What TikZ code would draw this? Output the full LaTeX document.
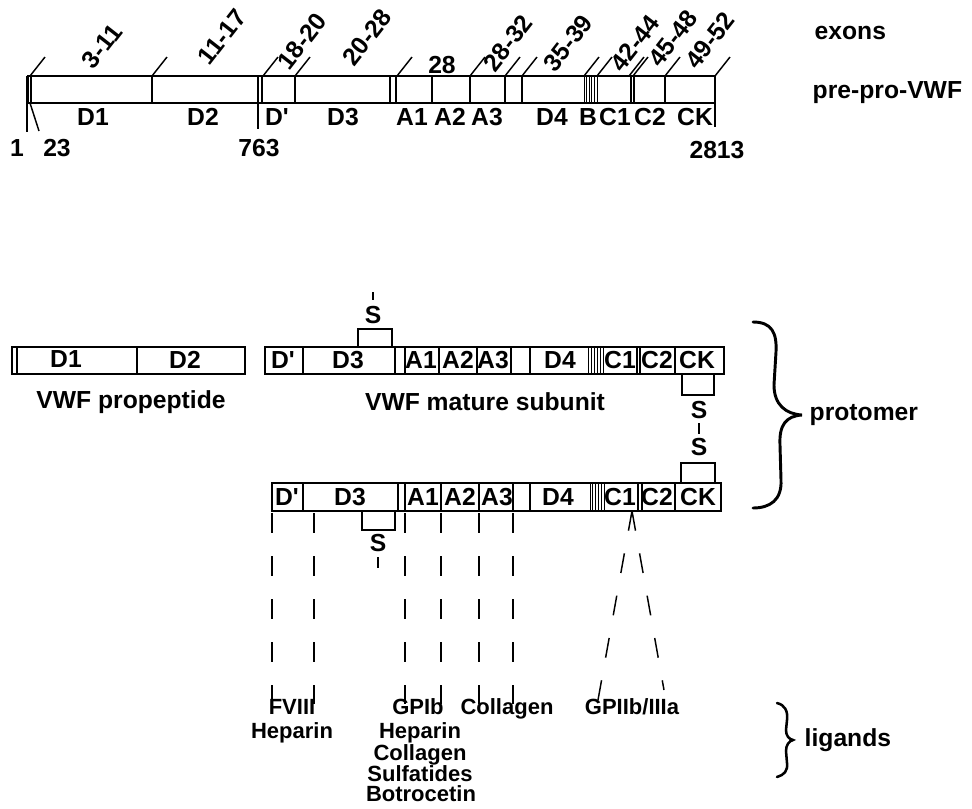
\documentclass[tikz,border=0pt]{standalone}
\usepackage{fontspec}
\setmainfont{Liberation Sans}
\usetikzlibrary{positioning}

\tikzset{every picture/.style={line width=1.1pt}}
\tikzset{
  lbl/.style={font=\fontsize{18.5}{21}\selectfont\bfseries, inner sep=0.75pt},
  lig/.style={font=\fontsize{16.5}{18}\selectfont\bfseries, inner sep=0.5pt,
    text height=11.9pt, text depth=3.4pt},
  exn/.style={lbl, rotate=52},
  hatch/.style={line width=0.6pt},
  dsh/.style={line width=1.1pt, dash pattern=on 15pt off 17.25pt},
  brace/.style={line width=2.2pt, line cap=round}
}
\newcommand{\pr}{\textquotesingle}

\begin{document}
\begin{tikzpicture}[x=0.75pt,y=0.75pt,yscale=-1,xscale=1]
\useasboundingbox (0,0) rectangle (972,808);

%pre-pro-VWF bar
\draw (28,76) rectangle (715,103);
\foreach \x in {31,152,258,262,295,390,396,432,470,505,522,631,634,665}
  \draw (\x,76) -- (\x,103);
\foreach \x in {584,586.6,589.2,591.8,594.4,597}
  \draw[hatch] (\x,76) -- (\x,103);
%exon boundaries
\foreach \x in {30,152,263,295,397,470,505,522,584,597,629,633,665,715}
  \draw (\x,76) -- ++(15,-19);
%ticks
\draw (27,76) -- (27,132);
\draw (30,103) -- (39,131);
\draw (258,103) -- (258,129);
\draw (715,103) -- (715,127);

% Text Node
\node[exn] (e1) at (102,46) {3-11};
\node[exn] (e2) at (222,37) {11-17};
\node[exn] (e3) at (302,41) {18-20};
\node[exn] (e4) at (367,37) {20-28};
\node[lbl] (e5) at (442,65) {28};
\node[exn] (e6) at (508,43) {28-32};
\node[exn] (e7) at (568,43) {35-39};
\node[exn] (e8) at (635,43) {42-44};
\node[exn] (e9) at (673,38) {45-48};
\node[exn] (e10) at (710,40) {49-52};

% Text Node
\node[lbl] (tD1) at (93,117) {D1};
\node[lbl] (tD2) at (203,117) {D2};
\node[lbl] (tDp) at (277,117) {D\pr};
\node[lbl] (tD3) at (343,117) {D3};
\node[lbl] (tA1) at (412,117) {A1};
\node[lbl] (tA2) at (450,117) {A2};
\node[lbl] (tA3) at (487,117) {A3};
\node[lbl] (tD4) at (552,117) {D4};
\node[lbl] (tB) at (588,117) {B};
\node[lbl] (tC1) at (615,117) {C1};
\node[lbl] (tC2) at (650,117) {C2};
\node[lbl] (tCK) at (695,117) {CK};

\node[lbl] (n1) at (17,148) {1};
\node[lbl] (n23) at (57,148) {23};
\node[lbl] (n763) at (259,148) {763};
\node[lbl] (n2813) at (717,150) {2813};

\node[lbl, anchor=west] (exons) at (813,33) {exons};
\node[lbl, anchor=west] (prepro) at (811,93) {pre-pro-VWF};

%propeptide
\draw (12,347) rectangle (245,374);
\draw (17,347) -- (17,374);
\draw (137,347) -- (137,374);
\node[lbl] (pD1) at (66,359) {D1};
\node[lbl] (pD2) at (185,360) {D2};
\node[lbl] (prop) at (131,402) {VWF propeptide};

%mature subunit
\draw (265,347) rectangle (724,374);
\foreach \x in {303,395,405,439,477,511,530,637,640,675}
  \draw (\x,347) -- (\x,374);
\foreach \x in {588,591,594,597,600,603}
  \draw[hatch] (\x,347) -- (\x,374);
\node[lbl] (mDp) at (283,360) {D\pr};
\node[lbl] (mD3) at (348,360) {D3};
\node[lbl] (mA1) at (421,360) {A1};
\node[lbl] (mA2) at (458,360) {A2};
\node[lbl] (mA3) at (493,360) {A3};
\node[lbl] (mD4) at (560,360) {D4};
\node[lbl] (mC1) at (620,360) {C1};
\node[lbl] (mC2) at (657,360) {C2};
\node[lbl] (mCK) at (697,360) {CK};
\node[lbl] (mat) at (485,402) {VWF mature subunit};

%disulfide bonds
\draw (358,347) -- (358,329) -- (392,329) -- (392,347);
\node[lbl] (s1) at (373,315) {S};
\draw (373,292) -- (373,300);
\draw (682,374) -- (682,395) -- (714,395) -- (714,374);
\node[lbl] (s2) at (699,410) {S};
\node[lbl] (s3) at (699,447) {S};
\draw[shorten <=2pt, shorten >=2pt] (s2) -- (s3);
\draw (681,483) -- (681,463) -- (715,463) -- (715,483);

%second subunit
\draw (272,483) rectangle (721,511);
\foreach \x in {303,398,405,441,479,513,530,638,642,675}
  \draw (\x,483) -- (\x,511);
\foreach \x in {590,592.8,595.6,598.4,601.2,604}
  \draw[hatch] (\x,483) -- (\x,511);
\node[lbl] (bDp) at (287,497) {D\pr};
\node[lbl] (bD3) at (350,497) {D3};
\node[lbl] (bA1) at (423,497) {A1};
\node[lbl] (bA2) at (460,497) {A2};
\node[lbl] (bA3) at (497,497) {A3};
\node[lbl] (bD4) at (558,497) {D4};
\node[lbl] (bC1) at (620,497) {C1};
\node[lbl] (bC2) at (657,497) {C2};
\node[lbl] (bCK) at (698,497) {CK};
\draw (362,511) -- (362,530) -- (395,530) -- (395,511);
\node[lbl] (s4) at (378,543) {S};
\draw (378,557) -- (378,568);

%ligands
\node[lig] (fviii) at (292,709) {FVIII};
\node[lig] (hep1) at (292,733) {Heparin};
\node[lig] (gpib) at (418,709) {GPIb};
\node[lig] (hep2) at (420,733) {Heparin};
\node[lig] (col1) at (420,755) {Collagen};
\node[lig] (sulf) at (420,776) {Sulfatides};
\node[lig] (botr) at (421,796) {Botrocetin};
\node[lig] (col2) at (507,709) {Collagen};
\node[lig] (gp2) at (632,709) {GPIIb/IIIa};

%binding sites
\foreach \x in {272,314,405,441,479,513}
  \draw[dsh] (\x,513) -- (\x,704);
\coordinate (c1) at (632,511);
\coordinate (c1l) at (598,700);
\coordinate (c1r) at (664,690);
\draw[dsh] (c1) -- (c1l);
\draw[dsh] (c1) -- (c1r);

%braces
\draw[brace] (753,322) .. controls (772,322) and (777,333) .. (776,352) -- (774,385) .. controls (774,405) and (786,414) .. (802,415) .. controls (786,416) and (779,425) .. (780,445) -- (781,480) .. controls (782,500) and (770,508) .. (753,508);
\node[lbl, anchor=west] (proto) at (808,415) {protomer};
\draw[brace, line width=1.9pt] (777,703) .. controls (785,705) and (788,711) .. (787,720) -- (786,730) .. controls (786,736) and (789,739) .. (793,740) .. controls (789,741) and (786,745) .. (786,751) -- (787,763) .. controls (788,771) and (784,775) .. (777,777);
\node[lbl, anchor=west] (lig) at (803,740) {ligands};

\end{tikzpicture}
\end{document}
